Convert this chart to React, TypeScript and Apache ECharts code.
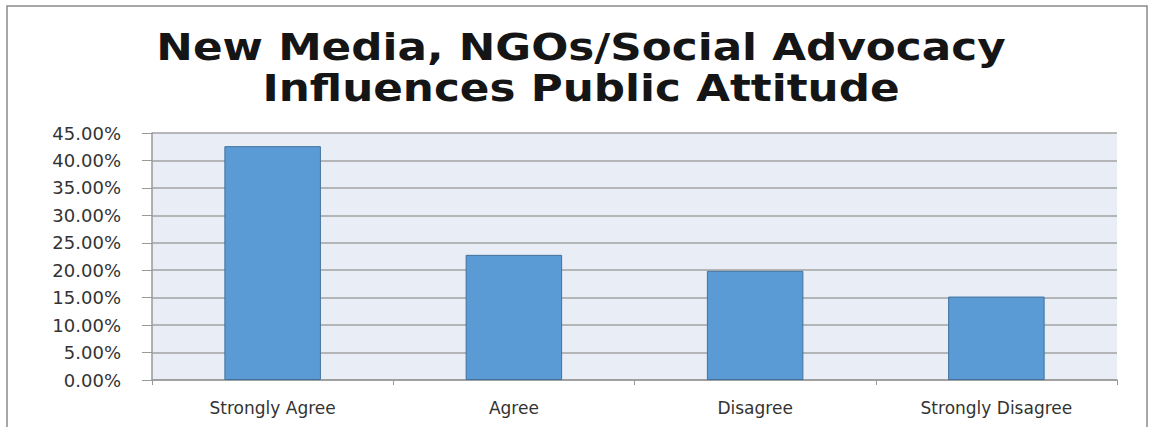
import React, { useEffect, useRef } from "react";
import * as echarts from "echarts";

const categories = ["Strongly Agree", "Agree", "Disagree", "Strongly Disagree"];
const values = [42.6, 22.8, 19.9, 15.2];
const titleLines = ["New Media, NGOs/Social Advocacy", "Influences Public Attitude"];

export default function App() {
  const ref = useRef<HTMLDivElement>(null);
  useEffect(() => {
    document.body.style.margin = "0";
    const chart = echarts.init(ref.current!, null, { renderer: "svg" });
    const titleStyle = {
      fontFamily: "DejaVu Sans",
      fontWeight: "bold",
      fontSize: 38,
      fill: "#151515",
      align: "center",
      verticalAlign: "middle",
    };
    chart.setOption({
      animation: false,
      backgroundColor: "#ffffff",
      graphic: [
        {
          type: "rect",
          shape: { x: 7, y: 6, width: 1140, height: 450 },
          style: { fill: "none", stroke: "#8a8a8a", lineWidth: 1.5 },
          silent: true,
        },
        {
          type: "text",
          x: 581,
          y: 47,
          scaleX: 1.15,
          style: { ...titleStyle, text: titleLines[0] },
        },
        {
          type: "text",
          x: 581,
          y: 88,
          scaleX: 1.15,
          style: { ...titleStyle, text: titleLines[1] },
        },
      ],
      grid: {
        left: 152,
        top: 133,
        right: 33,
        bottom: 47,
        show: true,
        backgroundColor: "#e9edf6",
        borderWidth: 0,
      },
      xAxis: {
        type: "category",
        data: categories,
        axisLine: { show: true, lineStyle: { color: "#999", width: 1.5 } },
        axisTick: { show: true, length: 5, lineStyle: { color: "#999" } },
        axisLabel: {
          fontFamily: "DejaVu Sans",
          fontSize: 17,
          color: "#333",
          margin: 19,
        },
      },
      yAxis: {
        type: "value",
        min: 0,
        max: 45,
        interval: 5,
        axisLine: { show: true, lineStyle: { color: "#999", width: 1.5 } },
        axisTick: { show: true, length: 10, lineStyle: { color: "#999" } },
        splitLine: { lineStyle: { color: "#a2a2a2", width: 1.5 } },
        axisLabel: {
          fontFamily: "DejaVu Sans",
          fontSize: 18,
          color: "#333",
          margin: 31,
          formatter: (v: number) => v.toFixed(2) + "%",
        },
      },
      series: [
        {
          type: "bar",
          data: values,
          barWidth: "40%",
          itemStyle: { color: "#5b9bd5", borderColor: "#41719c", borderWidth: 1 },
        },
      ],
    });
    return () => chart.dispose();
  }, []);
  return <div ref={ref} style={{ width: 1150, height: 427 }} />;
}
